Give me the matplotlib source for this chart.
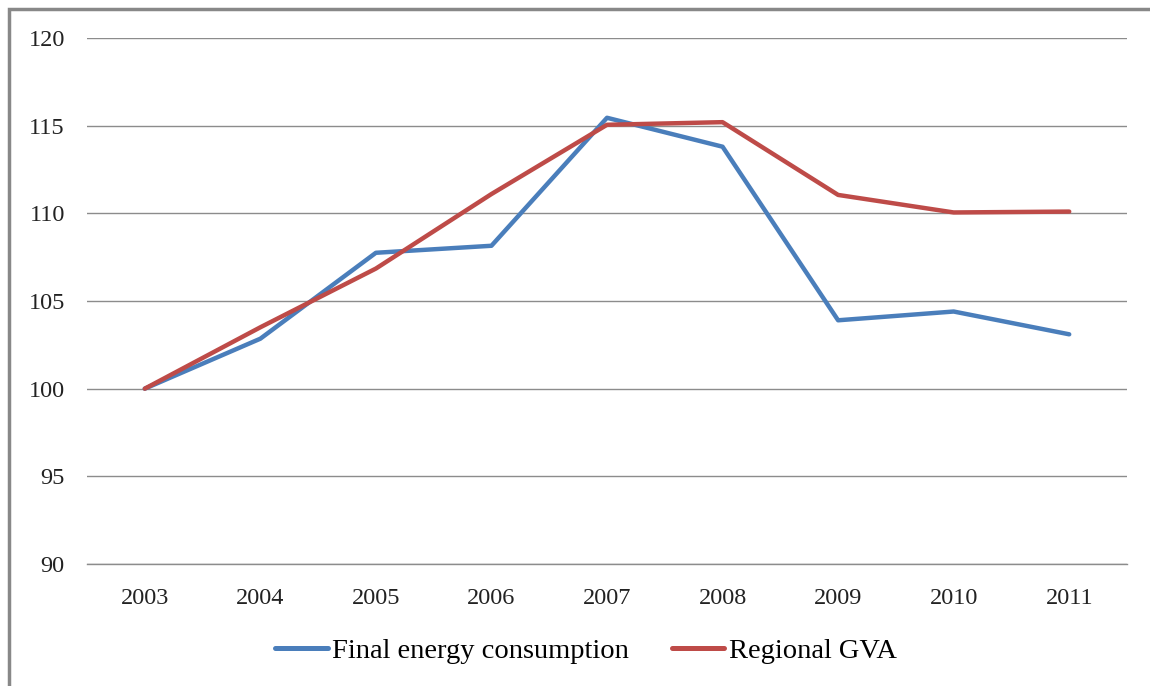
import matplotlib
matplotlib.use("Agg")
import matplotlib.pyplot as plt
from matplotlib.patches import Rectangle

years = ["2003", "2004", "2005", "2006", "2007", "2008", "2009", "2010", "2011"]
energy = [100.0, 102.85, 107.75, 108.15, 115.45, 113.8, 103.9, 104.4, 103.1]
gva = [100.0, 103.5, 106.85, 111.1, 115.05, 115.2, 111.05, 110.05, 110.1]
yticks = [90, 95, 100, 105, 110, 115, 120]

plt.rcParams['font.family'] = ['Liberation Serif', 'DejaVu Serif']

fig = plt.figure(figsize=(11.5, 6.86), dpi=100)
ax = fig.add_axes([87/1150, 1-564/686, (1127-87)/1150, (564-38)/686])

x = list(range(len(years)))
ax.plot(x, energy, color="#4A7EBB", lw=3.2, label="Final energy consumption", solid_capstyle="round")
ax.plot(x, gva, color="#BE4B48", lw=3.2, label="Regional GVA", solid_capstyle="round")

ax.set_xlim(-0.5, len(years) - 0.5)
ax.set_ylim(90, 120)
ax.set_yticks(yticks)
ax.set_yticklabels([str(v) for v in yticks], fontsize=17.5, color="#222222")
ax.set_xticks(x)
ax.set_xticklabels(years, fontsize=17.5, color="#222222")
ax.tick_params(axis='both', length=0)
ax.tick_params(axis='y', pad=16)
ax.tick_params(axis='x', pad=17)
ax.grid(axis='y', color="#8c8c8c", lw=1.0)
ax.set_axisbelow(True)
for s in ax.spines.values():
    s.set_visible(False)
ax.spines['bottom'].set_visible(True)
ax.spines['bottom'].set_color("#8c8c8c")
ax.spines['bottom'].set_linewidth(1.0)

leg = fig.legend(loc="center", bbox_to_anchor=(586/1150, 1-651/686), ncol=2, frameon=False,
                 fontsize=20.5, handlelength=1.85, columnspacing=1.5, handletextpad=0.15)
for h in leg.get_lines():
    h.set_linewidth(3.6)

fig.patches.append(Rectangle((9/1150, -0.1), 1.2, 1-9/686+0.1, transform=fig.transFigure,
                             fill=False, edgecolor="#888888", lw=2.5, zorder=10))

fig.savefig("out.png", dpi=100)
